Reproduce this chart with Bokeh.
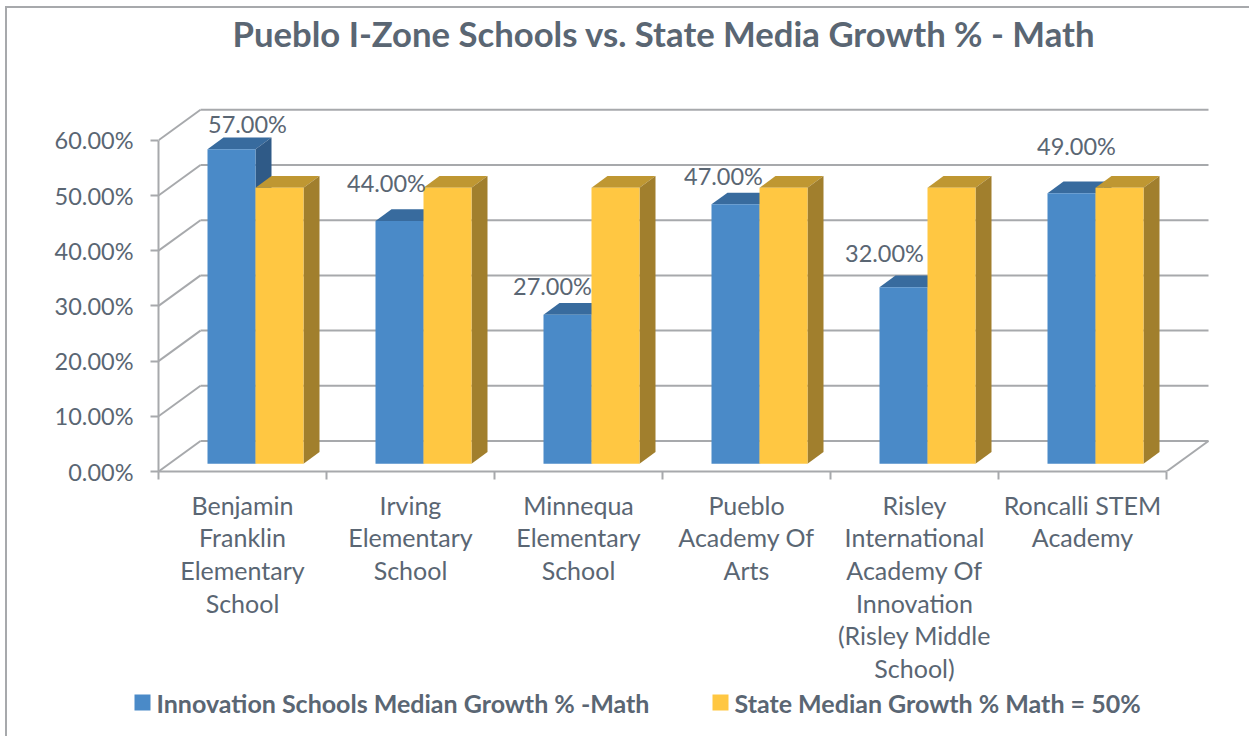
from bokeh.plotting import figure
from bokeh.models import (ColumnDataSource, FixedTicker, PrintfTickFormatter, Range1d, Title)
from bokeh.core.properties import value
from bokeh.embed import file_html
from bokeh.resources import INLINE

# ---------- data ----------
categories = [
    "Benjamin\nFranklin\nElementary\nSchool",
    "Irving\nElementary\nSchool",
    "Minnequa\nElementary\nSchool",
    "Pueblo\nAcademy Of\nArts",
    "Risley\nInternational\nAcademy Of\nInnovation\n(Risley Middle\nSchool)",
    "Roncalli STEM\nAcademy",
]
innovation = [57, 44, 27, 47, 32, 49]
state = [50, 50, 50, 50, 50, 50]
y_ticks = [0, 10, 20, 30, 40, 50, 60]
series_names = ["Innovation Schools Median Growth % -Math", "State Median Growth % Math = 50%"]
title_text = "Pueblo I-Zone Schools vs. State Media Growth % - Math"
# hand placement of the data labels, px relative to the top centre of each blue bar
label_dx = [16, -13, -15, -12, -19, 5]
label_dy = [-25, -38, -29, -28, -34, -47]

# ---------- style ----------
FONT = "Lato"
TXT = "#5a6673"
GRID = "#a7a9ac"
BLUE, BLUE_TOP, BLUE_SIDE = "#4a8ac8", "#386b9e", "#2f5a87"
YEL, YEL_TOP, YEL_SIDE = "#ffc742", "#bf9732", "#a17f2d"

PX_X = 168.0   # px per category
PX_Y = 5.52    # px per percent
WALL_DX, WALL_DY = 42 / PX_X, 30.5 / PX_Y
BAR_X0, BAR_W = 49 / PX_X, 48 / PX_X
BAR_BASE = 7.7 / PX_Y
BAR_DX, BAR_DY = 16 / PX_X, 11.7 / PX_Y

p = figure(frame_width=1057, frame_height=371, output_backend="svg", toolbar_location=None,
           x_range=Range1d(0, 1057 / PX_X), y_range=Range1d(0, 371 / PX_Y),
           min_border_left=151, min_border_right=34, min_border_top=92, min_border_bottom=214,
           outline_line_color=None, background_fill_color="white", border_fill_color="white")
p.grid.visible = False
p.styles = {"border-left": f"2px solid {GRID}", "border-top": f"2px solid {GRID}",
            "margin-left": "5px", "margin-top": "6px"}

# title
p.title.text = title_text
p.title.align = "left"
p.title.vertical_align = "top"
p.title.offset = 74
p.title.standoff = 0
p.title.text_font = FONT
p.title.text_font_size = "34.7px"
p.title.text_font_style = "bold"
p.title.text_color = TXT
# an empty title holds the real one away from the plot area
p.add_layout(Title(text=" ", text_font_size="10px", standoff=32), "above")

# axes
ya = p.yaxis[0]
ya.ticker = FixedTicker(ticks=y_ticks)
ya.formatter = PrintfTickFormatter(format="%.2f%%")
ya.bounds = (y_ticks[0], y_ticks[-1])
ya.axis_line_color = GRID
ya.axis_line_width = 2
ya.major_tick_line_color = GRID
ya.major_tick_line_width = 2
ya.major_tick_in = 0
ya.major_tick_out = 8
ya.minor_tick_line_color = None
ya.major_label_standoff = 17
ya.major_label_text_font = FONT
ya.major_label_text_font_size = "23.5px"
ya.major_label_text_color = TXT

n = len(categories)
xa = p.xaxis[0]
centres = [i + 0.5 for i in range(n)]
xa.ticker = FixedTicker(ticks=centres, minor_ticks=list(range(n + 1)))
xa.major_label_overrides = {c: t for c, t in zip(centres, categories)}
xa.bounds = (0, n)
xa.axis_line_color = GRID
xa.axis_line_width = 2
xa.major_tick_line_color = None
xa.major_tick_in = 0
xa.major_tick_out = 0
xa.minor_tick_line_color = GRID
xa.minor_tick_line_width = 2
xa.minor_tick_in = 0
xa.minor_tick_out = 8
xa.major_label_standoff = 10
xa.major_label_text_font = FONT
xa.major_label_text_font_size = "25px"
xa.major_label_text_color = TXT
xa.major_label_text_line_height = 1.09

# walls
back_y = [t + WALL_DY for t in y_ticks]
p.segment(x0=[WALL_DX] * len(y_ticks), y0=back_y, x1=[n + WALL_DX] * len(y_ticks), y1=back_y,
          line_color=GRID, line_width=2)
p.segment(x0=[0] * len(y_ticks), y0=y_ticks, x1=[WALL_DX] * len(y_ticks), y1=back_y,
          line_color=GRID, line_width=2)
p.segment(x0=[n], y0=[0], x1=[n + WALL_DX], y1=[WALL_DY], line_color=GRID, line_width=2)


def bars(values, shift, front, top, side):
    left = [i + BAR_X0 + shift for i in range(n)]
    right = [l + BAR_W for l in left]
    tops = [BAR_BASE + v for v in values]
    p.patches(xs=[[l, l + BAR_DX, r + BAR_DX, r] for l, r in zip(left, right)],
              ys=[[t, t + BAR_DY, t + BAR_DY, t] for t in tops],
              fill_color=top, line_color=None)
    p.patches(xs=[[r, r + BAR_DX, r + BAR_DX, r] for r in right],
              ys=[[BAR_BASE, BAR_BASE + BAR_DY, t + BAR_DY, t] for t in tops],
              fill_color=side, line_color=None)
    p.quad(left=left, right=right, bottom=[BAR_BASE] * n, top=tops,
           fill_color=front, line_color=None)


bars(innovation, 0, BLUE, BLUE_TOP, BLUE_SIDE)
bars(state, BAR_W, YEL, YEL_TOP, YEL_SIDE)

# data labels
src = ColumnDataSource(dict(
    x=[i + BAR_X0 + BAR_W / 2 for i in range(n)],
    y=[BAR_BASE + v for v in innovation],
    t=[f"{v:.2f}%" for v in innovation],
    dx=label_dx, dy=label_dy,
))
p.text(x="x", y="y", text="t", x_offset="dx", y_offset="dy", source=src,
       text_font=value(FONT), text_font_size="23.5px", text_color=TXT,
       text_align="center", text_baseline="middle")

# legend strip: a second figure directly under the chart, its scales in page pixels
LEG_TOP = 686
leg = figure(width=1242, height=736 - LEG_TOP, output_backend="svg", toolbar_location=None,
             x_range=Range1d(7, 1249), y_range=Range1d(736, LEG_TOP),
             x_axis_type=None, y_axis_type=None,
             min_border_left=0, min_border_right=0, min_border_top=0, min_border_bottom=0,
             outline_line_color=None, background_fill_color="white", border_fill_color="white")
leg.grid.visible = False
leg.styles = {"border-left": f"2px solid {GRID}", "margin-left": "5px"}
legend_left = [134, 712]
leg.quad(left=legend_left, right=[x + 16 for x in legend_left], top=[694, 694], bottom=[710, 710],
         fill_color=[BLUE, YEL], line_color=None)
leg.text(x=[x + 22 for x in legend_left], y=[702, 702], text=series_names,
         text_font=value(FONT), text_font_size="25px", text_font_style="bold", text_color=TXT,
         text_align="left", text_baseline="middle")

open("out.html", "w").write(file_html([p, leg], INLINE))
